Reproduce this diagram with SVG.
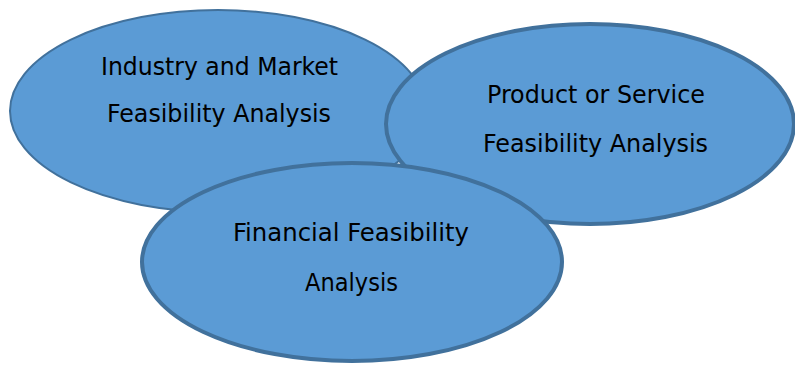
<svg xmlns="http://www.w3.org/2000/svg" width="795" height="365" viewBox="0 0 795 365">
  <style>
    .oval { fill: #5B9BD5; stroke: #41719C; }
    .lbl { font-family: "DejaVu Sans Condensed", "DejaVu Sans", Verdana, sans-serif; font-size: 24px; fill: #000; text-anchor: middle; }
  </style>
  <rect width="795" height="365" fill="#FFFFFF"/>
  <g id="industry-market">
    <ellipse class="oval" cx="218" cy="111" rx="208" ry="101" stroke-width="2"/>
    <text class="lbl" x="219.5" y="75" textLength="237" lengthAdjust="spacingAndGlyphs">Industry and Market</text>
    <text class="lbl" x="219" y="122" textLength="224" lengthAdjust="spacingAndGlyphs">Feasibility Analysis</text>
  </g>
  <g id="product-service">
    <ellipse class="oval" cx="590" cy="124" rx="204" ry="100" stroke-width="4"/>
    <text class="lbl" x="596" y="103" textLength="218" lengthAdjust="spacingAndGlyphs">Product or Service</text>
    <text class="lbl" x="595.5" y="152" textLength="225" lengthAdjust="spacingAndGlyphs">Feasibility Analysis</text>
  </g>
  <g id="financial">
    <ellipse class="oval" cx="352" cy="262" rx="210" ry="99" stroke-width="4"/>
    <text class="lbl" x="351" y="241" textLength="236" lengthAdjust="spacingAndGlyphs">Financial Feasibility</text>
    <text class="lbl" x="351.5" y="291" textLength="93" lengthAdjust="spacingAndGlyphs">Analysis</text>
  </g>
  <g id="connectors"/>
</svg>
